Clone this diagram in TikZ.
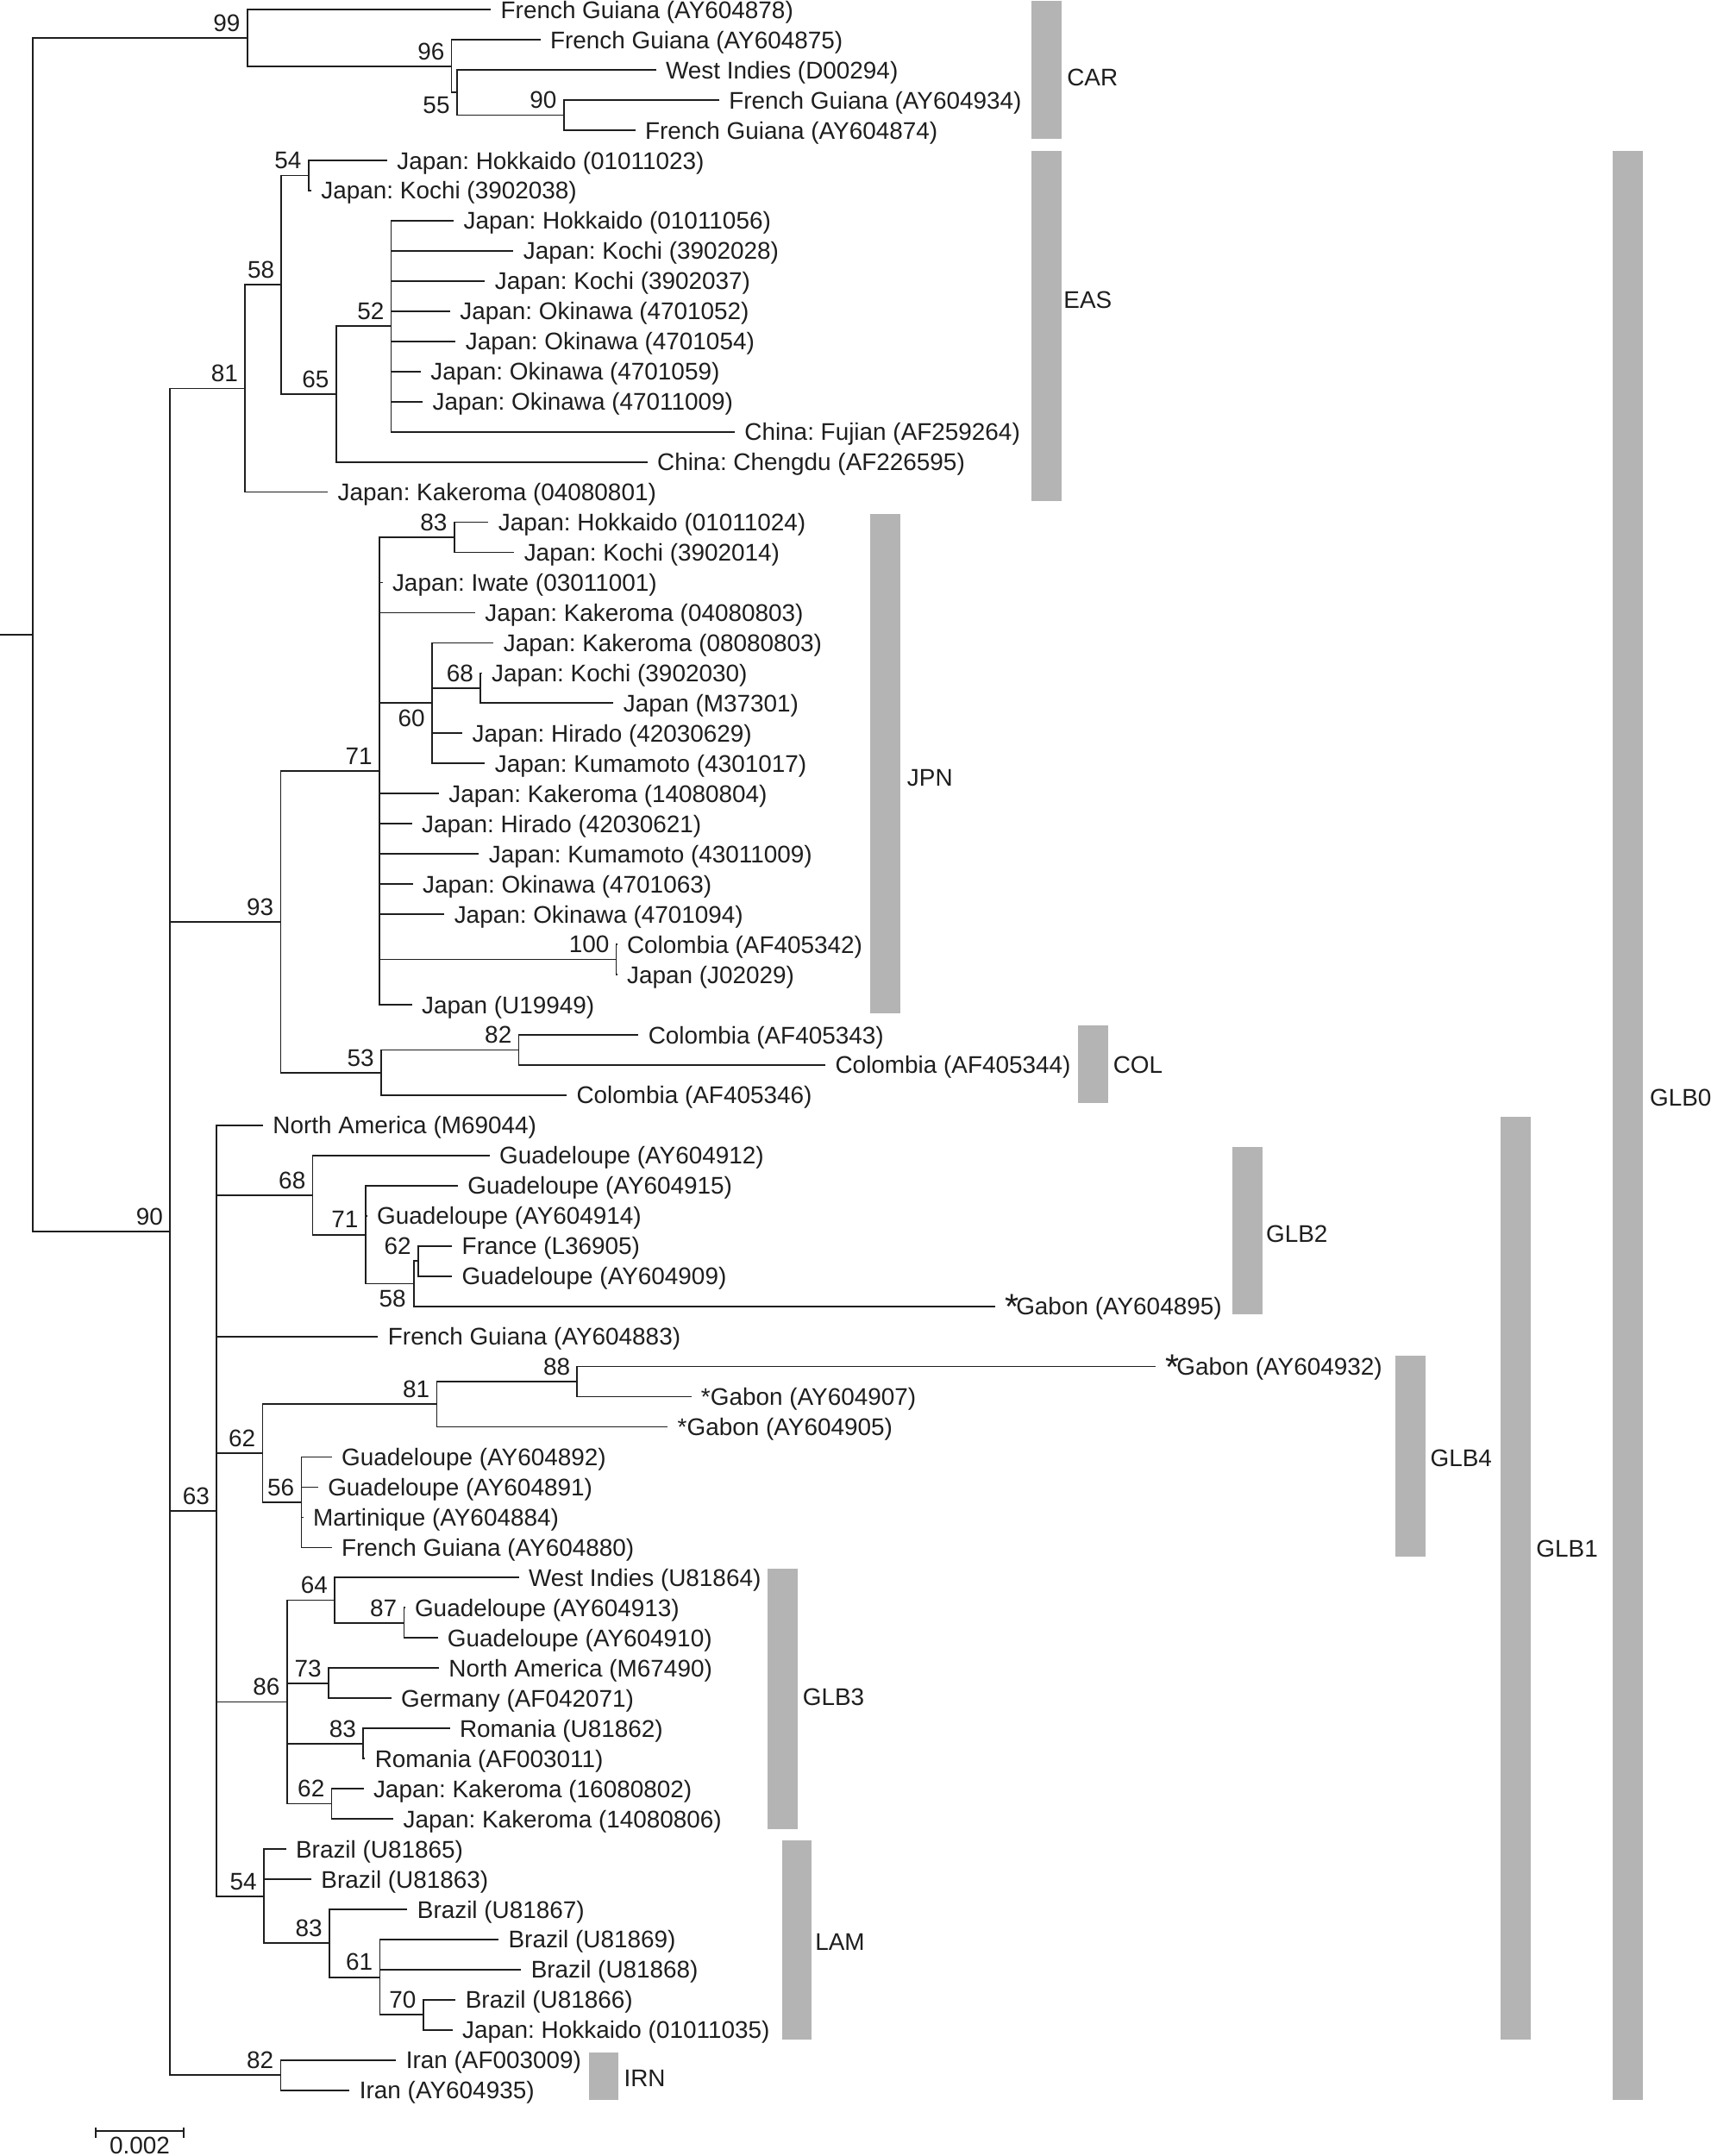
\documentclass[tikz,border=0pt]{standalone}
\usepackage{fontspec}
\setmainfont{Liberation Sans}
\frenchspacing
\definecolor{barg}{RGB}{180,180,180}
\definecolor{ink}{RGB}{30,30,30}
\tikzset{
  br/.style={draw=ink, line width=1.1pt},
  leaf/.style={anchor=base west, inner sep=0pt, xshift=7pt, yshift=-6.3pt, text=ink},
  bs/.style={anchor=base east, inner sep=0pt, xshift=-5pt, yshift=4.8pt, text=ink},
  bar/.style={fill=barg, draw=none},
  clade/.style={anchor=base west, inner sep=0pt, yshift=-6.25pt, text=ink},
}
\newcommand\mkleaf[3]{\coordinate (l#1) at (#2,{7+21.93*(#1-1)}); \node[leaf] (t#1) at (l#1) {#3};}
\newcommand\bstar{\makebox[7.8pt][l]{\raisebox{-3pt}{\fontsize{26}{26}\selectfont *}}}
\begin{document}
\begin{tikzpicture}[x=1pt,y=-1pt,font=\fontsize{17.5}{21}\selectfont]
\useasboundingbox (0,0) rectangle (1244,1568);
% ---------- leaves ----------
\mkleaf{1}{357}{French Guiana (AY604878)}
\mkleaf{2}{393}{French Guiana (AY604875)}
\mkleaf{3}{477}{West Indies (D00294)}
\mkleaf{4}{523}{French Guiana (AY604934)}
\mkleaf{5}{462}{French Guiana (AY604874)}
\mkleaf{6}{281.5}{Japan: Hokkaido (01011023)}
\mkleaf{7}{226.4}{Japan: Kochi (3902038)}
\mkleaf{8}{330}{Japan: Hokkaido (01011056)}
\mkleaf{9}{373.4}{Japan: Kochi (3902028)}
\mkleaf{10}{352.7}{Japan: Kochi (3902037)}
\mkleaf{11}{327.4}{Japan: Okinawa (4701052)}
\mkleaf{12}{331.4}{Japan: Okinawa (4701054)}
\mkleaf{13}{306}{Japan: Okinawa (4701059)}
\mkleaf{14}{307.4}{Japan: Okinawa (47011009)}
\mkleaf{15}{534.3}{China: Fujian (AF259264)}
\mkleaf{16}{470.8}{China: Chengdu (AF226595)}
\mkleaf{17}{238.5}{Japan: Kakeroma (04080801)}
\mkleaf{18}{355.3}{Japan: Hokkaido (01011024)}
\mkleaf{19}{374}{Japan: Kochi (3902014)}
\mkleaf{20}{278.2}{Japan: Iwate (03011001)}
\mkleaf{21}{345.5}{Japan: Kakeroma (04080803)}
\mkleaf{22}{359}{Japan: Kakeroma (08080803)}
\mkleaf{23}{350.4}{Japan: Kochi (3902030)}
\mkleaf{24}{446.2}{Japan (M37301)}
\mkleaf{25}{336.3}{Japan: Hirado (42030629)}
\mkleaf{26}{352.7}{Japan: Kumamoto (4301017)}
\mkleaf{27}{319.2}{Japan: Kakeroma (14080804)}
\mkleaf{28}{299.6}{Japan: Hirado (42030621)}
\mkleaf{29}{348.4}{Japan: Kumamoto (43011009)}
\mkleaf{30}{300.2}{Japan: Okinawa (4701063)}
\mkleaf{31}{323.2}{Japan: Okinawa (4701094)}
\mkleaf{32}{448.8}{Colombia (AF405342)}
\mkleaf{33}{448.8}{Japan (J02029)}
\mkleaf{34}{299.6}{Japan (U19949)}
\mkleaf{35}{464.3}{Colombia (AF405343)}
\mkleaf{36}{600.3}{Colombia (AF405344)}
\mkleaf{37}{412.1}{Colombia (AF405346)}
\mkleaf{38}{191.3}{North America (M69044)}
\mkleaf{39}{356}{Guadeloupe (AY604912)}
\mkleaf{40}{333}{Guadeloupe (AY604915)}
\mkleaf{41}{267}{Guadeloupe (AY604914)}
\mkleaf{42}{328.8}{France (L36905)}
\mkleaf{43}{328.8}{Guadeloupe (AY604909)}
\mkleaf{44}{724}{\bstar Gabon (AY604895)}
\mkleaf{45}{275}{French Guiana (AY604883)}
\mkleaf{46}{840.7}{\bstar Gabon (AY604932)}
\mkleaf{47}{502.7}{*Gabon (AY604907)}
\mkleaf{48}{485.6}{*Gabon (AY604905)}
\mkleaf{49}{241.2}{Guadeloupe (AY604892)}
\mkleaf{50}{231.3}{Guadeloupe (AY604891)}
\mkleaf{51}{220.5}{Martinique (AY604884)}
\mkleaf{52}{241.2}{French Guiana (AY604880)}
\mkleaf{53}{377.3}{West Indies (U81864)}
\mkleaf{54}{294.5}{Guadeloupe (AY604913)}
\mkleaf{55}{318.3}{Guadeloupe (AY604910)}
\mkleaf{56}{319.2}{North America (M67490)}
\mkleaf{57}{284.5}{Germany (AF042071)}
\mkleaf{58}{327.1}{Romania (U81862)}
\mkleaf{59}{265.5}{Romania (AF003011)}
\mkleaf{60}{264.4}{Japan: Kakeroma (16080802)}
\mkleaf{61}{286.1}{Japan: Kakeroma (14080806)}
\mkleaf{62}{208}{Brazil (U81865)}
\mkleaf{63}{226.4}{Brazil (U81863)}
\mkleaf{64}{296.3}{Brazil (U81867)}
\mkleaf{65}{362.6}{Brazil (U81869)}
\mkleaf{66}{379}{Brazil (U81868)}
\mkleaf{67}{331.4}{Brazil (U81866)}
\mkleaf{68}{329.1}{Japan: Hokkaido (01011035)}
\mkleaf{69}{288.1}{Iran (AF003009)}
\mkleaf{70}{254.3}{Iran (AY604935)}
% ---------- internal nodes ----------
\coordinate (r0) at (0,461.7);
\coordinate (root) at (23.6,461.7);
\coordinate (car) at (179.8,27.56);
\coordinate (n96) at (328.4,48.12);
\coordinate (n55) at (332.4,67.31);
\coordinate (n90c) at (410,83.755);
\coordinate (big) at (123.7,895.85);
\coordinate (n81) at (178.2,282.5);
\coordinate (n58) at (204.7,207.11);
\coordinate (n54) at (224.4,127.615);
\coordinate (n65) at (244.4,286.61);
\coordinate (n52) at (284.5,237.265);
\coordinate (n93) at (204.1,670.38);
\coordinate (n71) at (275.9,560.73);
\coordinate (n83a) at (330.4,390.775);
\coordinate (n60) at (314,511.39);
\coordinate (n68) at (349.4,500.425);
\coordinate (n100) at (448.2,697.795);
\coordinate (n53) at (277.2,780.03);
\coordinate (n82c) at (377.3,763.585);
\coordinate (n63) at (157.5,1098.7);
\coordinate (n68g) at (227.4,869.13);
\coordinate (n71g) at (265.8,897.91);
\coordinate (n58g) at (300.9,933.54);
\coordinate (n62f) at (304.1,917.095);
\coordinate (n62g) at (191,1056.9);
\coordinate (n81g) at (317.6,1021.26);
\coordinate (n88) at (419.8,1004.815);
\coordinate (n56) at (219.2,1092.535);
\coordinate (n86) at (208.7,1237.82);
\coordinate (n64) at (243.4,1163.81);
\coordinate (n87) at (293.8,1180.255);
\coordinate (n73) at (238.9,1224.115);
\coordinate (n83r) at (264.1,1267.975);
\coordinate (n62k) at (241.2,1311.835);
\coordinate (n54l) at (191.9,1379.0);
\coordinate (n83b) at (239.5,1413.26);
\coordinate (n61) at (276.3,1437.93);
\coordinate (n70) at (307.8,1465.345);
\coordinate (n82i) at (204.1,1509.205);
% ---------- branches ----------
\draw[br] (r0) -- (root);
\foreach \p/\c in {root/car, root/big,
  car/l1, car/n96, n96/l2, n96/n55, n55/l3, n55/n90c, n90c/l4, n90c/l5,
  big/n81, big/n93, big/n63, big/n82i,
  n81/n58, n81/l17, n58/n54, n58/n65, n54/l6, n54/l7, n65/n52, n65/l16,
  n52/l8, n52/l9, n52/l10, n52/l11, n52/l12, n52/l13, n52/l14, n52/l15,
  n93/n71, n93/n53,
  n71/n83a, n71/l20, n71/l21, n71/n60, n71/l27, n71/l28, n71/l29, n71/l30, n71/l31, n71/n100, n71/l34,
  n83a/l18, n83a/l19, n60/l22, n60/n68, n60/l25, n60/l26, n68/l23, n68/l24, n100/l32, n100/l33,
  n53/n82c, n53/l37, n82c/l35, n82c/l36,
  n63/l38, n63/n68g, n63/l45, n63/n62g, n63/n86, n63/n54l,
  n68g/l39, n68g/n71g, n71g/l40, n71g/l41, n71g/n58g, n58g/n62f, n58g/l44, n62f/l42, n62f/l43,
  n62g/n81g, n62g/n56, n81g/n88, n81g/l48, n88/l46, n88/l47,
  n56/l49, n56/l50, n56/l51, n56/l52,
  n86/n64, n86/n73, n86/n83r, n86/n62k, n64/l53, n64/n87, n87/l54, n87/l55,
  n73/l56, n73/l57, n83r/l58, n83r/l59, n62k/l60, n62k/l61,
  n54l/l62, n54l/l63, n54l/n83b, n83b/l64, n83b/n61, n61/l65, n61/l66, n61/n70, n70/l67, n70/l68,
  n82i/l69, n82i/l70}
  \draw[br] (\p) |- (\c);
% ---------- bootstrap values ----------
\node[bs] (b99) at (car) {99};
\node[bs] (b96) at (n96) {96};
\node[anchor=base east, inner sep=0pt, text=ink] (b55) at (327.3,82.4) {55};
\node[bs] (b90c) at (n90c) {90};
\node[bs] (b54) at (n54) {54};
\node[bs] (b58) at (n58) {58};
\node[bs] (b52) at (n52) {52};
\node[bs] (b65) at (n65) {65};
\node[bs] (b81) at (n81) {81};
\node[bs] (b83a) at (n83a) {83};
\node[bs] (b68) at (n68) {68};
\node[anchor=base east, inner sep=0pt, text=ink] (b60) at (309.2,528.4) {60};
\node[bs] (b71) at (n71) {71};
\node[bs] (b100) at (n100) {100};
\node[bs] (b93) at (n93) {93};
\node[bs] (b82c) at (n82c) {82};
\node[bs] (b53) at (n53) {53};
\node[bs] (bbig) at (big) {90};
\node[bs] (b68g) at (n68g) {68};
\node[bs] (b71g) at (n71g) {71};
\node[bs] (b62f) at (n62f) {62};
\node[anchor=base east, inner sep=0pt, text=ink] (b58g) at (295.4,950.8) {58};
\node[bs] (b88) at (n88) {88};
\node[bs] (b81g) at (n81g) {81};
\node[bs] (b62g) at (n62g) {62};
\node[bs] (b56) at (n56) {56};
\node[bs] (b63) at (n63) {63};
\node[bs] (b64) at (n64) {64};
\node[bs] (b87) at (n87) {87};
\node[bs] (b73) at (n73) {73};
\node[bs] (b86) at (n86) {86};
\node[bs] (b83r) at (n83r) {83};
\node[bs] (b62k) at (n62k) {62};
\node[bs] (b54l) at (n54l) {54};
\node[bs] (b83b) at (n83b) {83};
\node[bs] (b61) at (n61) {61};
\node[bs] (b70) at (n70) {70};
\node[bs] (b82i) at (n82i) {82};
% ---------- clade bars ----------
\fill[bar] (750,0.5) rectangle (772,101);
\node[clade] (cCAR) at (775.8,56.4) {CAR};
\fill[bar] (750,110) rectangle (772,364.5);
\node[clade] (cEAS) at (773.4,218) {EAS};
\fill[bar] (633,373.5) rectangle (655,737);
\node[clade] (cJPN) at (659.6,565.7) {JPN};
\fill[bar] (784,746) rectangle (806,802.3);
\node[clade] (cCOL) at (809.4,774) {COL};
\fill[bar] (896,834.4) rectangle (918,956);
\node[clade] (cGLB2) at (920.6,897) {GLB2};
\fill[bar] (1014.7,986.2) rectangle (1036.5,1131.9);
\node[clade] (cGLB4) at (1040.1,1060.2) {GLB4};
\fill[bar] (1091,812) rectangle (1113,1483);
\node[clade] (cGLB1) at (1117.1,1126.3) {GLB1};
\fill[bar] (1173,110) rectangle (1195,1527.2);
\node[clade] (cGLB0) at (1199.7,798.3) {GLB0};
\fill[bar] (558,1141) rectangle (580,1330);
\node[clade] (cGLB3) at (583.6,1234.3) {GLB3};
\fill[bar] (568.6,1338.3) rectangle (590.3,1483);
\node[clade] (cLAM) at (592.7,1412.4) {LAM};
\fill[bar] (428.2,1492.7) rectangle (449.5,1527.2);
\node[clade] (cIRN) at (453.6,1511.4) {IRN};
% ---------- scale bar ----------
\coordinate (sb1) at (69.6,1550);
\coordinate (sb2) at (133.5,1550);
\draw[br] (sb1) -- (sb2);
\draw[br] ([yshift=2.5pt]sb1) -- ([yshift=-4.7pt]sb1);
\draw[br] ([yshift=2.5pt]sb2) -- ([yshift=-4.7pt]sb2);
\node[anchor=base, inner sep=0pt, text=ink] (sbl) at (101.6,1566.3) {0.002};
\end{tikzpicture}
\end{document}
